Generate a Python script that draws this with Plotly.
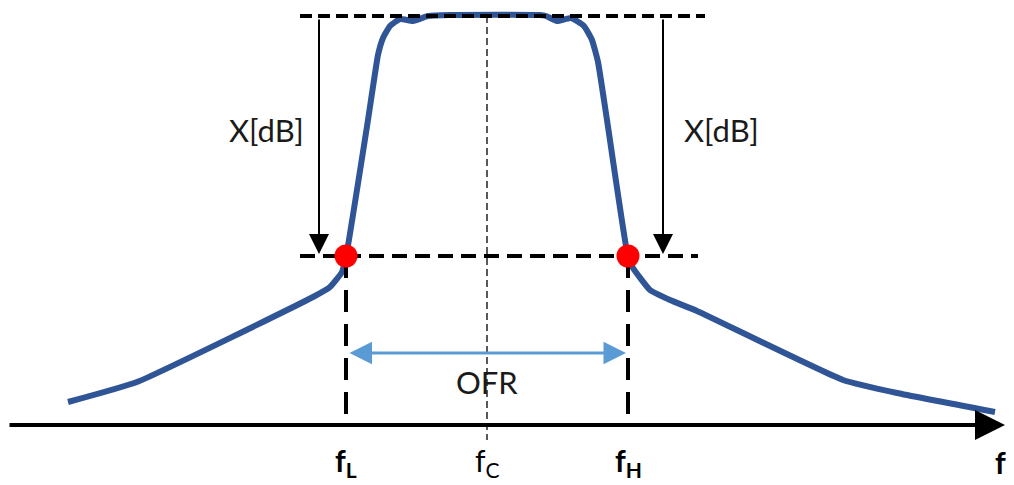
import plotly.graph_objects as go

# Filter response sketch, in picture units (x to the right, y downward)
curve_x = [68, 137, 313, 330, 342, 346, 368, 378, 383, 390, 400, 413, 428, 450,
           540, 546, 557, 571, 584, 592, 598, 607, 628, 633, 650, 670, 697, 843, 897, 995]
curve_y = [402, 382, 297, 287, 272, 257, 120, 55, 38, 26, 19, 21, 16, 15,
           15, 16, 21, 18, 26, 40, 62, 120, 257, 268, 290, 300, 311, 380, 393, 412]

f_L, f_C, f_H = 346, 487, 628
top_level = 16
cut_level = 256
axis_y = 425
axis_x = [8, 1005]
top_line_x = [300, 705]
cut_line_x = [300, 698]
xdb_arrow_x = [319, 663]
ofr_y = 353

tick_labels = ["<b>f<sub>L</sub></b>", "f<sub>C</sub>", "<b>f<sub>H</sub></b>"]
tick_pos = [f_L, f_C, f_H]

# the page puts the figure 8px in from the corner, so shift the view to match
offset = 8
W, H = 1014, 485

fig = go.Figure()

# response curve (under the dashed guides)
fig.add_trace(go.Scatter(x=curve_x, y=curve_y, mode='lines',
                         line=dict(color='#2F5597', width=6, shape='spline', smoothing=0.4)))

# dashed reference levels
fig.add_trace(go.Scatter(x=top_line_x, y=[top_level, top_level], mode='lines',
                         line=dict(color='black', width=4, dash='12px,6px')))
fig.add_trace(go.Scatter(x=cut_line_x, y=[cut_level, cut_level], mode='lines',
                         line=dict(color='black', width=4, dash='15px,8px')))

# centre frequency thin dashed line
fig.add_trace(go.Scatter(x=[f_C, f_C], y=[top_level, axis_y + 15], mode='lines',
                         line=dict(color='black', width=1.3, dash='7px,4px')))

# vertical dashed lines at fL and fH
for fx in [f_L, f_H]:
    fig.add_trace(go.Scatter(x=[fx, fx], y=[cut_level, axis_y], mode='lines',
                             line=dict(color='black', width=4, dash='22px,12px')))

# cut-off points
fig.add_trace(go.Scatter(x=[f_L, f_H], y=[cut_level, cut_level], mode='markers',
                         marker=dict(color='#FF0000', size=23)))

annotations = []

# frequency axis arrow
annotations.append(dict(x=axis_x[1], y=axis_y, ax=axis_x[0], ay=axis_y,
                        xref='x', yref='y', axref='x', ayref='y', text='',
                        showarrow=True, arrowhead=2, arrowsize=1.5, arrowwidth=4,
                        arrowcolor='black'))

# X[dB] arrows
for ax_x in xdb_arrow_x:
    annotations.append(dict(x=ax_x, y=cut_level - 2, ax=ax_x, ay=top_level + 2,
                            xref='x', yref='y', axref='x', ayref='y', text='',
                            showarrow=True, arrowhead=2, arrowsize=2.0, arrowwidth=2,
                            arrowcolor='black'))

# OFR double arrow
annotations.append(dict(x=f_H - 2, y=ofr_y, ax=f_L + 2, ay=ofr_y,
                        xref='x', yref='y', axref='x', ayref='y', text='',
                        showarrow=True, arrowhead=2, startarrowhead=2, arrowside='end+start',
                        arrowsize=1.5, startarrowsize=1.5, arrowwidth=3,
                        arrowcolor='#5B9BD5'))

font = dict(family='Lato, Open Sans, sans-serif', size=31, color='#1a1a1a')

annotations.append(dict(x=266, y=130, xref='x', yref='y', text='X[dB]',
                        showarrow=False, font=font))
annotations.append(dict(x=721, y=130, xref='x', yref='y', text='X[dB]',
                        showarrow=False, font=font))
annotations.append(dict(x=f_C, y=382, xref='x', yref='y', text='OFR',
                        showarrow=False, font=font))

tick_font = dict(family='Lato, Open Sans, sans-serif', size=30, color='black')
for pos, lab in zip(tick_pos, tick_labels):
    annotations.append(dict(x=pos, y=462, xref='x', yref='y', text=lab,
                            showarrow=False, font=tick_font))
annotations.append(dict(x=993, y=462, xref='x', yref='y', text='<b>f</b>', xanchor='left',
                        showarrow=False, font=tick_font))

fig.update_layout(
    width=W - offset, height=H - offset,
    margin=dict(l=0, r=0, t=0, b=0),
    paper_bgcolor='white', plot_bgcolor='white',
    showlegend=False,
    xaxis=dict(range=[offset, W], visible=False, fixedrange=True),
    yaxis=dict(range=[H, offset], visible=False, fixedrange=True),
    annotations=annotations
)

fig.write_html("out.html")
